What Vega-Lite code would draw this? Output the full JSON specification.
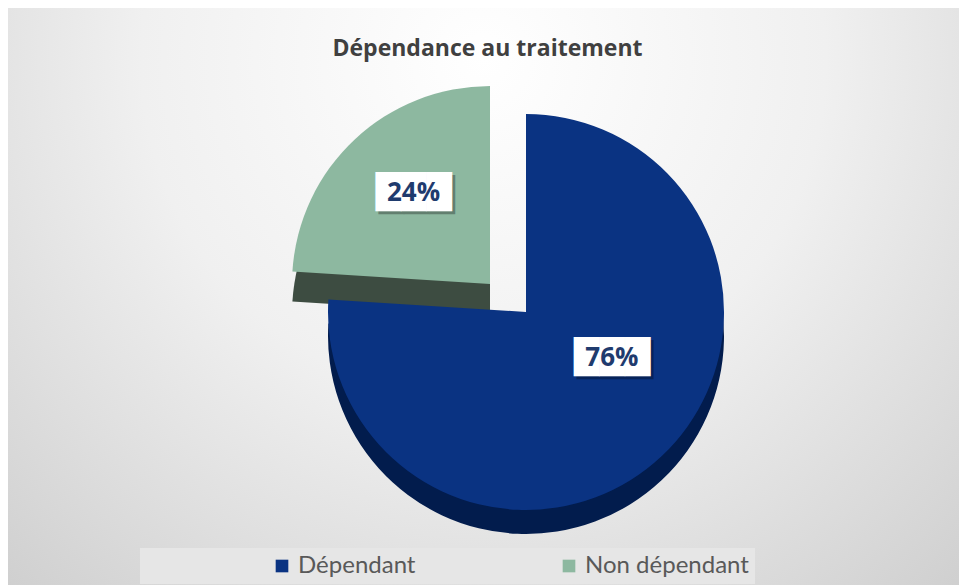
{
  "$schema": "https://vega.github.io/schema/vega-lite/v6.json",
  "width": 951,
  "height": 577,
  "autosize": {"type": "none"},
  "padding": {"left": 8, "top": 8, "right": 0, "bottom": 0},
  "background": "#ffffff",
  "view": {
    "stroke": null,
    "fill": {
      "gradient": "radial",
      "x1": 0.5, "y1": 0.25, "r1": 0,
      "x2": 0.5, "y2": 0.25, "r2": 0.8,
      "stops": [
        {"offset": 0, "color": "#ffffff"},
        {"offset": 0.45, "color": "#f0f0f0"},
        {"offset": 1, "color": "#cbcbcb"}
      ]
    }
  },
  "title": {
    "text": "Dépendance au traitement",
    "font": "Open Sans",
    "fontSize": 23,
    "fontWeight": "bold",
    "color": "#404040",
    "anchor": "middle",
    "baseline": "alphabetic",
    "offset": -71,
    "dx": 4
  },
  "data": {
    "values": [
      {"cat": "Dépendant", "value": 0.76},
      {"cat": "Non dépendant", "value": 0.24}
    ]
  },
  "encoding": {
    "theta": {"field": "value", "type": "quantitative", "stack": true},
    "order": {"field": "value", "type": "quantitative", "sort": "descending"},
    "detail": {"field": "cat", "type": "nominal"}
  },
  "layer": [
    {
      "mark": {"type": "arc", "outerRadius": 198, "xOffset": 42.5, "yOffset": 39.5, "fill": "#021c4d", "stroke": null},
      "encoding": {"opacity": {"condition": {"test": "datum.cat === 'Dépendant'", "value": 1}, "value": 0}}
    },
    {
      "mark": {"type": "arc", "outerRadius": 198, "xOffset": 6.5, "yOffset": 17.5, "fill": "#3d4c41", "stroke": null},
      "encoding": {"opacity": {"condition": {"test": "datum.cat === 'Non dépendant'", "value": 1}, "value": 0}}
    },
    {
      "mark": {"type": "arc", "outerRadius": 198, "xOffset": 6.5, "yOffset": -12.5, "stroke": null},
      "encoding": {
        "color": {
          "field": "cat", "type": "nominal",
          "scale": {"domain": ["Dépendant", "Non dépendant"], "range": ["#0a3382", "#8db8a0"]},
          "legend": {
            "orient": "none", "legendX": 132, "legendY": 540,
            "direction": "horizontal", "title": null,
            "labelFont": "Lato", "labelFontSize": 24, "labelColor": "#595959", "labelLimit": 400,
            "symbolType": "square", "symbolSize": 160, "symbolStrokeWidth": 0,
            "fillColor": "#e6e6e6", "padding": 6,
            "symbolOffset": 124, "columnPadding": 17, "labelOffset": 4
          }
        },
        "opacity": {"condition": {"test": "datum.cat === 'Non dépendant'", "value": 1}, "value": 0}
      }
    },
    {
      "mark": {"type": "arc", "outerRadius": 198, "xOffset": 42.5, "yOffset": 15.5, "stroke": null},
      "encoding": {
        "color": {"field": "cat", "type": "nominal"},
        "opacity": {"condition": {"test": "datum.cat === 'Dépendant'", "value": 1}, "value": 0}
      }
    },
    {
      "mark": {"type": "text", "text": "███", "font": "DejaVu Sans", "fontSize": 33, "fill": "#000000", "radius": 108, "xOffset": 57.5, "yOffset": -14.5, "align": "center", "baseline": "middle"},
      "encoding": {"opacity": {"condition": {"test": "datum.cat === 'Dépendant'", "value": 0.3}, "value": 0}}
    },
    {
      "mark": {"type": "text", "text": "███", "font": "DejaVu Sans", "fontSize": 33, "fill": "#ffffff", "radius": 108, "xOffset": 54.5, "yOffset": -17.5, "align": "center", "baseline": "middle"},
      "encoding": {"opacity": {"condition": {"test": "datum.cat === 'Dépendant'", "value": 1}, "value": 0}}
    },
    {
      "mark": {"type": "text", "font": "Open Sans", "fontSize": 26, "fontWeight": "bold", "fill": "#1f3b6e", "radius": 108, "xOffset": 54.5, "yOffset": -17.5, "align": "center", "baseline": "middle"},
      "encoding": {
        "text": {"field": "value", "type": "quantitative", "format": ".0%"},
        "opacity": {"condition": {"test": "datum.cat === 'Dépendant'", "value": 1}, "value": 0}
      }
    },
    {
      "mark": {"type": "text", "text": "███", "font": "DejaVu Sans", "fontSize": 33, "fill": "#000000", "radius": 100, "xOffset": 1.5, "yOffset": -27.5, "align": "center", "baseline": "middle"},
      "encoding": {"opacity": {"condition": {"test": "datum.cat === 'Non dépendant'", "value": 0.3}, "value": 0}}
    },
    {
      "mark": {"type": "text", "text": "███", "font": "DejaVu Sans", "fontSize": 33, "fill": "#ffffff", "radius": 100, "xOffset": -1.5, "yOffset": -30.5, "align": "center", "baseline": "middle"},
      "encoding": {"opacity": {"condition": {"test": "datum.cat === 'Non dépendant'", "value": 1}, "value": 0}}
    },
    {
      "mark": {"type": "text", "font": "Open Sans", "fontSize": 26, "fontWeight": "bold", "fill": "#1f3b6e", "radius": 100, "xOffset": -1.5, "yOffset": -30.5, "align": "center", "baseline": "middle"},
      "encoding": {
        "text": {"field": "value", "type": "quantitative", "format": ".0%"},
        "opacity": {"condition": {"test": "datum.cat === 'Non dépendant'", "value": 1}, "value": 0}
      }
    }
  ]
}
